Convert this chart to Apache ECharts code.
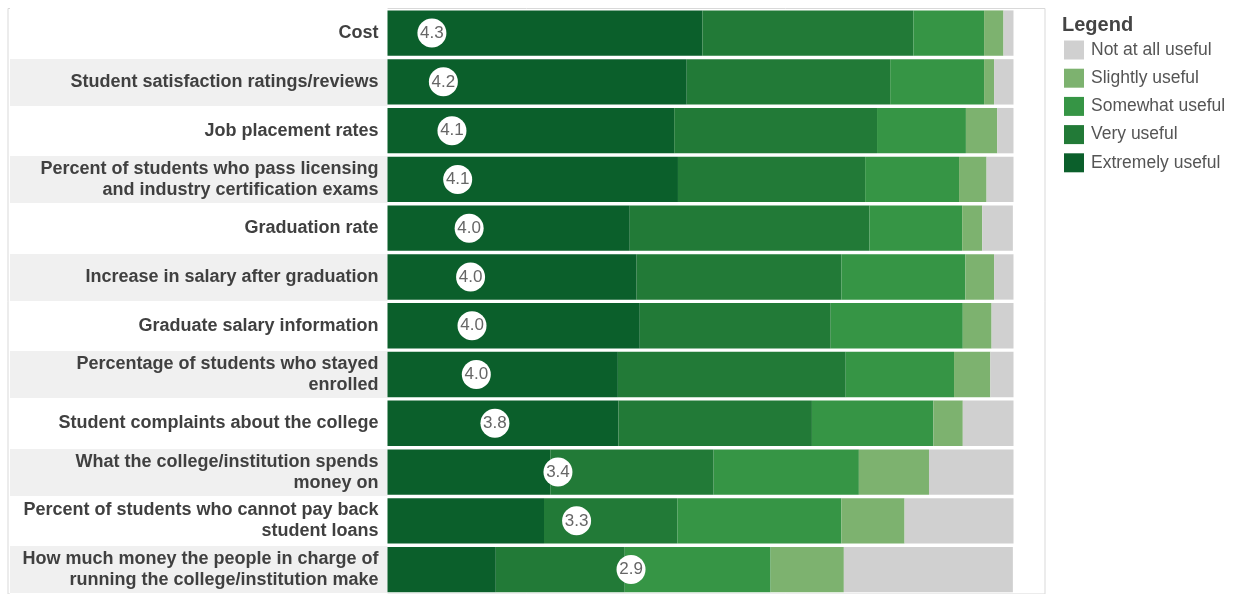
<!DOCTYPE html>
<html>
<head>
<meta charset="utf-8">
<script src="https://cdn.jsdelivr.net/npm/echarts@6/dist/echarts.min.js"></script>
<style>
html,body{margin:0;padding:0;background:#fff;}
#chart{width:1242px;height:594px;}
</style>
</head>
<body>
<div id="chart"></div>
<script>
const categories = [
  'Cost',
  'Student satisfaction ratings/reviews',
  'Job placement rates',
  'Percent of students who pass licensing\nand industry certification exams',
  'Graduation rate',
  'Increase in salary after graduation',
  'Graduate salary information',
  'Percentage of students who stayed\nenrolled',
  'Student complaints about the college',
  'What the college/institution spends\nmoney on',
  'Percent of students who cannot pay back\nstudent loans',
  'How much money the people in charge of\nrunning the college/institution make'
];
const seriesNames = ['Extremely useful','Very useful','Somewhat useful','Slightly useful','Not at all useful'];
const extremely = [50.3, 47.8, 45.8, 46.4, 38.7, 39.8, 40.3, 36.8, 36.9, 26.0, 25.0, 17.3];
const very      = [33.7, 32.5, 32.4, 29.9, 38.3, 32.7, 30.5, 36.4, 30.9, 26.1, 21.3, 20.6];
const somewhat  = [11.3, 15.0, 14.2, 15.0, 14.8, 19.8, 21.1, 17.3, 19.4, 23.2, 26.2, 23.3];
const slightly  = [3.1, 1.6, 5.0, 4.4, 3.2, 4.6, 4.6, 5.8, 4.7, 11.2, 10.1, 11.7];
const notAtAll  = [1.6, 3.1, 2.7, 4.4, 4.9, 3.1, 3.5, 3.9, 8.1, 13.5, 17.4, 27.0];
const meanScores = [4.28, 4.20, 4.14, 4.10, 4.02, 4.01, 4.00, 3.97, 3.84, 3.40, 3.27, 2.89];
const legendOrder = ['Not at all useful','Slightly useful','Somewhat useful','Very useful','Extremely useful'];

const colors = ['#0b5f2b','#227a37','#369545','#7db26f','#d0d0d0'];
const values = [extremely, very, somewhat, slightly, notAtAll];
const FONT = "Arial, 'Liberation Sans', sans-serif";

const chart = echarts.init(document.getElementById('chart'));
const barSeries = seriesNames.map((name, i) => ({
  name: name,
  type: 'bar',
  stack: 'total',
  xAxisIndex: 0,
  yAxisIndex: 0,
  barCategoryGap: '7%',
  itemStyle: { color: colors[i] },
  emphasis: { disabled: true },
  data: values[i]
}));

chart.setOption({
  animation: false,
  textStyle: { fontFamily: FONT },
  title: {
    text: 'Legend', left: 1062, top: 15, padding: 0,
    textStyle: { fontSize: 20, fontWeight: 'bold', color: '#444', fontFamily: FONT }
  },
  legend: {
    data: legendOrder, orient: 'vertical', left: 1064, top: 40.5, padding: 0,
    itemWidth: 20, itemHeight: 19, itemGap: 9.2, icon: 'rect',
    textStyle: { fontSize: 17.5, color: '#555', fontFamily: FONT, padding: [0, 0, 0, 2] },
    selectedMode: false
  },
  grid: [
    { left: 387.5, right: 228.5, top: 8.7, bottom: -5.1, containLabel: false },
    { left: 10, right: 1242 - 387.5, top: 8.7, bottom: -5.1, containLabel: false },
    { left: 8, right: 197, top: 8.5, bottom: -12, show: true, borderColor: '#d9d9d9', borderWidth: 1, backgroundColor: 'transparent' }
  ],
  xAxis: [
    { type: 'value', gridIndex: 0, min: 0, max: 100, show: false },
    { type: 'value', gridIndex: 0, min: 0.22, max: 4.59, inverse: true, show: false },
    { type: 'value', gridIndex: 1, min: 0, max: 1, show: false },
    { type: 'value', gridIndex: 2, show: false }
  ],
  yAxis: [
    {
      type: 'category', gridIndex: 0, data: categories, inverse: true,
      axisLine: { show: false }, axisTick: { show: false },
      axisLabel: {
        margin: 9, fontSize: 18, fontWeight: 'bold', color: '#404040',
        lineHeight: 21, fontFamily: FONT, align: 'right'
      }
    },
    {
      type: 'category', gridIndex: 1, data: categories, inverse: true,
      axisLine: { show: false }, axisTick: { show: false }, axisLabel: { show: false },
      splitArea: { show: true, areaStyle: { color: ['#ffffff', '#f0f0f0'] } },
      splitLine: { show: true, lineStyle: { color: '#ffffff', width: 2 } }
    },
    { type: 'category', gridIndex: 2, show: false }
  ],
  series: barSeries.concat([{
    type: 'scatter',
    xAxisIndex: 1,
    yAxisIndex: 0,
    symbol: 'circle',
    symbolSize: 29,
    itemStyle: { color: '#ffffff', opacity: 1 },
    emphasis: { disabled: true },
    z: 5,
    label: {
      show: true, position: 'inside', fontSize: 17, color: '#666',
      fontFamily: FONT,
      formatter: p => p.value[0].toFixed(1)
    },
    data: meanScores.map((m, i) => [m, categories[i]])
  }])
});
</script>
</body>
</html>
